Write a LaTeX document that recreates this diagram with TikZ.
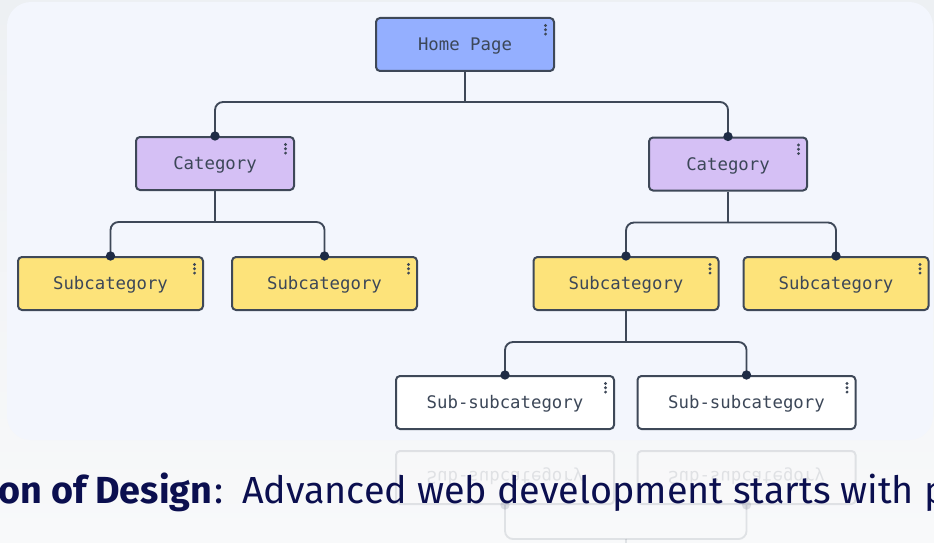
\documentclass[tikz,border=0pt]{standalone}
\usepackage{fontspec}
\setmainfont{Fira Sans}
\newfontfamily\boxfont{DejaVu Sans Mono}
\usetikzlibrary{calc}
\definecolor{bgtop}{HTML}{EDF0F3}
\definecolor{bgbot}{HTML}{F8F9FA}
\definecolor{panelc}{HTML}{F3F6FD}
\definecolor{homefill}{HTML}{94AFFF}
\definecolor{catfill}{HTML}{D5C0F5}
\definecolor{subfill}{HTML}{FDE37A}
\definecolor{edgec}{HTML}{3E4858}
\definecolor{dotc}{HTML}{1E2B45}
\definecolor{txtc}{HTML}{3C4758}
\definecolor{capc}{HTML}{0B0F4F}
\tikzset{
  tbox/.style={draw=edgec, line width=1.5pt, rounded corners=3pt,
    minimum height=39.75pt, inner sep=0pt, text=txtc,
    text height=9.3pt, text depth=0pt,
    font=\boxfont\fontsize{13}{15}\selectfont},
  homebox/.style={tbox, fill=homefill, minimum width=133.5pt},
  catbox/.style={tbox, fill=catfill, minimum width=118.5pt},
  subbox/.style={tbox, fill=subfill, minimum width=138.75pt},
  ssbox/.style={tbox, fill=white, minimum width=163.5pt},
  conn/.style={draw=edgec, line width=1.4pt},
  elbow/.style={conn, rounded corners=6pt},
  jdot/.style={fill=dotc},
}
\begin{document}
\begin{tikzpicture}[x=0.75pt,y=-0.75pt]
\useasboundingbox (0,0) rectangle (934,542);
\clip (0,0) rectangle (934,542);
\shade[top color=bgtop, bottom color=bgbot] (0,0) rectangle (934,542);
\fill[panelc, rounded corners=18pt] (7,2) rectangle (933,440);

% nodes
\node[homebox] (home) at (465,44.5) {Home Page};
\node[catbox] (catL) at (215,163.5) {Category};
\node[catbox] (catR) at (728,164) {Category};
\node[subbox] (s1) at (110.5,283.5) {Subcategory};
\node[subbox] (s2) at (324.5,283.5) {Subcategory};
\node[subbox] (s3) at (626,283.5) {Subcategory};
\node[subbox] (s4) at (836,283.5) {Subcategory};
\node[ssbox] (ss1) at (505,402.5) {Sub-subcategory};
\node[ssbox] (ss2) at (746.5,402.5) {Sub-subcategory};

% junctions
\coordinate (j0) at ($(home.south)+(0,30)$);
\coordinate (jL) at ($(catL.south)+(0,31)$);
\coordinate (jR) at ($(catR.south)+(0,31)$);
\coordinate (jS) at ($(s3.south)+(0,31)$);

% connectors
\draw[conn] (home.south) -- (j0);
\draw[elbow] (j0) -| (catL.north);
\draw[elbow] (j0) -| (catR.north);
\draw[conn] (catL.south) -- (jL);
\draw[elbow] (jL) -| (s1.north);
\draw[elbow] (jL) -| (s2.north);
\draw[conn] (catR.south) -- (jR);
\draw[elbow] (jR) -| (s3.north);
\draw[elbow] (jR) -| (s4.north);
\draw[conn] (s3.south) -- (jS);
\draw[elbow] (jS) -| (ss1.north);
\draw[elbow] (jS) -| (ss2.north);

\foreach \n in {catL,catR,s1,s2,s3,s4,ss1,ss2}
  \fill[jdot] (\n.north) circle (3.5pt);

% menu dots
\foreach \n in {home,catL,catR,s1,s2,s3,s4,ss1,ss2}
  \foreach \dy in {8.5,12.8,17.1}
    \fill[edgec] ([shift={(-9.5,\dy)}]\n.north east) circle (1.2pt);

% reflection
\begin{scope}[shift={(0,880)}, yscale=-1, transform shape, opacity=0.13]
\node[ssbox] (r1) at (505,402.5) {Sub-subcategory};
\node[ssbox] (r2) at (746.5,402.5) {Sub-subcategory};
\coordinate (rS) at (626,341);
\coordinate (rT) at (626,300);
\draw[conn] (rT) -- (rS);
\draw[elbow] (rS) -| (r1.north);
\draw[elbow] (rS) -| (r2.north);
\fill[jdot] (r1.north) circle (3.5pt);
\fill[jdot] (r2.north) circle (3.5pt);
\end{scope}

% caption
\node[anchor=base west, text=capc, inner sep=0pt,
  font=\fontsize{28.3}{30}\selectfont] (cap) at (-2,503)
  {\textbf{on of Design}\hspace{1.5pt}:\hspace{0.5em}Advanced web development starts with p};
\end{tikzpicture}
\end{document}
